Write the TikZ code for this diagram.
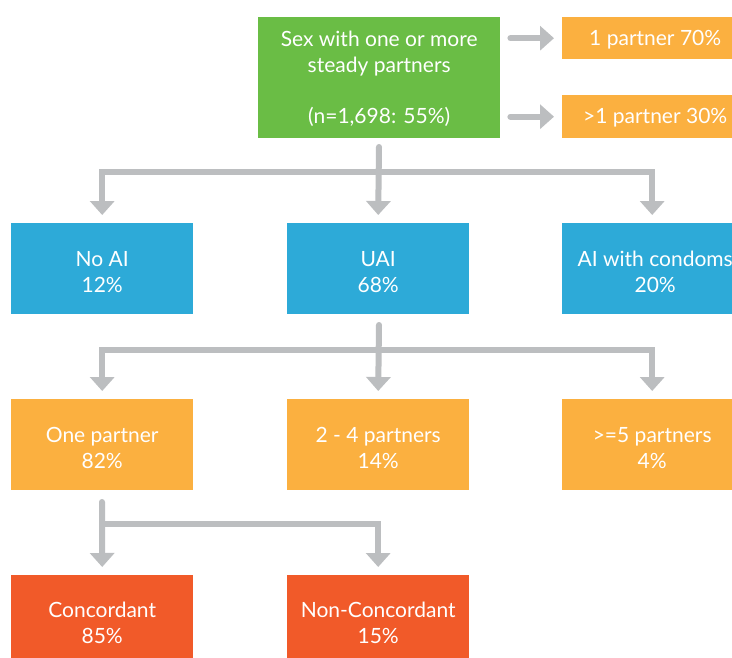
\documentclass[tikz,border=0pt]{standalone}
\usepackage{fontspec}
\setmainfont{Lato}
\usetikzlibrary{arrows.meta,positioning,calc}
\definecolor{cgreen}{RGB}{106,189,69}
\definecolor{cblue}{RGB}{45,170,216}
\definecolor{corange}{RGB}{251,176,64}
\definecolor{cred}{RGB}{241,90,41}
\definecolor{cgray}{RGB}{188,190,192}
\tikzset{
  boxstyle/.style={anchor=north west, inner sep=0pt},
  txt/.style={text=white, align=center, inner sep=0pt,
    font=\fontsize{21}{26}\selectfont},
  conn/.style={draw=cgray, line width=6pt, line cap=round, line join=miter,
    -{Triangle[width=24pt,length=14pt]}},
}
\begin{document}
\begin{tikzpicture}[x=1pt,y=-1pt]
\clip (0,0) rectangle (732,657);
\fill[white] (0,0) rectangle (732,657);
% top
\node[boxstyle, fill=cgreen, minimum width=242pt, minimum height=121pt,
  label={[txt,yshift=-1.5pt]center:Sex with one or more\\steady partners\\[25pt](n=1,698: 55\%)}] (g) at (258,17) {};
\node[boxstyle, fill=corange, minimum width=180pt, minimum height=42pt,
  label={[txt,xshift=3pt,yshift=-1pt]center:1 partner 70\%}] (p1) at (562,17) {};
\node[boxstyle, fill=corange, minimum width=180pt, minimum height=43pt,
  label={[txt,xshift=3pt,yshift=-0.5pt]center:>1 partner 30\%}] (p2) at (562,95) {};
% row 2
\node[boxstyle, fill=cblue, minimum width=182pt, minimum height=91pt,
  label={[txt,yshift=-3pt]center:No AI\\12\%}] (noai) at (11,223) {};
\node[boxstyle, fill=cblue, minimum width=182pt, minimum height=91pt,
  label={[txt,yshift=-3pt]center:UAI\\68\%}] (uai) at (287,223) {};
\node[boxstyle, fill=cblue, minimum width=180pt, minimum height=91pt,
  label={[txt,xshift=3pt,yshift=-3pt]center:AI with condoms\\20\%}] (aic) at (562,223) {};
% row 3
\node[boxstyle, fill=corange, minimum width=182pt, minimum height=91pt,
  label={[txt,yshift=-3pt]center:One partner\\82\%}] (one) at (11,399) {};
\node[boxstyle, fill=corange, minimum width=182pt, minimum height=91pt,
  label={[txt,yshift=-3pt]center:2 - 4 partners\\14\%}] (two) at (287,399) {};
\node[boxstyle, fill=corange, minimum width=180pt, minimum height=91pt,
  label={[txt,yshift=-3pt]center:>=5 partners\\4\%}] (five) at (562,399) {};
% row 4
\node[boxstyle, fill=cred, minimum width=182pt, minimum height=92pt,
  label={[txt,yshift=-2pt]center:Concordant\\85\%}] (conc) at (11,575) {};
\node[boxstyle, fill=cred, minimum width=182pt, minimum height=92pt,
  label={[txt,yshift=-2pt]center:Non-Concordant\\15\%}] (nonc) at (287,575) {};
% connectors: right
\draw[conn] ([xshift=10pt]g.east |- p1.west) -- ([xshift=-8pt]p1.west);
\draw[conn] ([xshift=10pt]g.east |- p2.west) -- ([xshift=-8pt]p2.west);
% level 1
\coordinate (t1) at (379,147);
\coordinate (j1) at (379,172);
\draw[conn] (t1) -- ([yshift=8pt]uai.north);
\draw[conn] (j1) -| ([yshift=8pt]noai.north);
\draw[conn] (j1) -| ([yshift=8pt]aic.north);
% level 2
\coordinate (t2) at (379,325);
\coordinate (j2) at (379,350);
\draw[conn] (t2) -- ([yshift=8pt]two.north);
\draw[conn] (j2) -| ([yshift=8pt]one.north);
\draw[conn] (j2) -| ([yshift=8pt]five.north);
% level 3
\coordinate (t3) at (102,502);
\coordinate (j3) at (102,524);
\draw[conn] (t3) -- ([yshift=8pt]conc.north);
\draw[conn] (j3) -| ([yshift=8pt]nonc.north);
\end{tikzpicture}
\end{document}
